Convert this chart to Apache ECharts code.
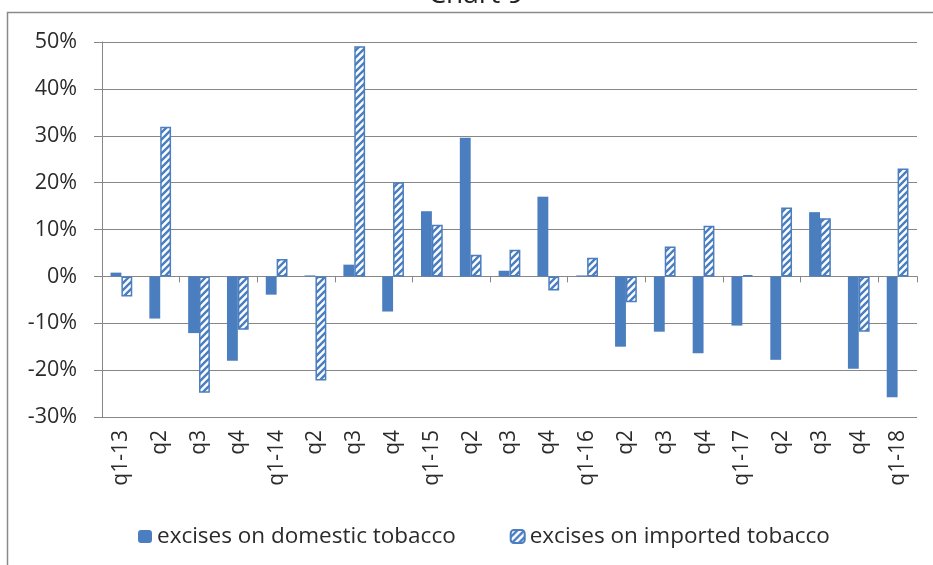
<!DOCTYPE html>
<html>
<head>
<meta charset="utf-8">
<script src="https://cdn.jsdelivr.net/npm/echarts@6/dist/echarts.min.js"></script>
<style>
  html, body { margin: 0; padding: 0; background: #fff; }
  #chart { width: 933px; height: 565px; }
</style>
</head>
<body>
<div id="chart"></div>
<script>
// Quarterly growth of tobacco excise revenue, % year on year
const quarters = ['q1-13','q2','q3','q4','q1-14','q2','q3','q4','q1-15','q2','q3','q4',
                  'q1-16','q2','q3','q4','q1-17','q2','q3','q4','q1-18'];
const domestic = [0.8, -9.0, -12.1, -18.0, -3.9, 0.2, 2.5, -7.5, 13.9, 29.6, 1.2, 17.0,
                  0.2, -15.0, -11.8, -16.4, -10.5, -17.8, 13.7, -19.7, -25.8];
const imported = [-4.3, 31.9, -24.8, -11.4, 3.7, -22.2, 49.1, 20.1, 11.0, 4.6, 5.7, -3.0,
                  4.0, -5.5, 6.4, 10.8, 0.3, 14.7, 12.4, -11.8, 23.0];
const seriesNames = ['excises on domestic tobacco', 'excises on imported tobacco'];
const yTicks = { min: -30, max: 50, step: 10 };

const BLUE = '#4A7EBF';
const GRID = '#878787';
const TEXT = '#2B2B2B';
const FONT = '"Open Sans", "Noto Sans", sans-serif';

// diagonal hatch tile for the imported series
function hatchTile() {
  const s = 7;
  const c = document.createElement('canvas');
  c.width = s; c.height = s;
  const g = c.getContext('2d');
  g.fillStyle = '#fff';
  g.fillRect(0, 0, s, s);
  g.strokeStyle = BLUE;
  g.lineWidth = 2.4;
  g.beginPath();
  g.moveTo(-1, s + 1); g.lineTo(s + 1, -1);
  g.moveTo(-2, 2); g.lineTo(2, -2);
  g.moveTo(s - 2, s + 2); g.lineTo(s + 2, s - 2);
  g.stroke();
  return c;
}

const chart = echarts.init(document.getElementById('chart'), null, { renderer: 'canvas' });

chart.setOption({
  animation: false,
  backgroundColor: '#fff',
  textStyle: { fontFamily: FONT },
  graphic: [
    {
      type: 'rect',
      shape: { x: 7.5, y: 12.5, width: 960, height: 620 },
      style: { fill: 'none', stroke: '#8A8A8A', lineWidth: 1.5 },
      silent: true, z: -1
    },
    {
      type: 'text',
      x: 476, y: 9,
      style: {
        text: 'Chart 9', fontFamily: FONT, fontSize: 28, fill: '#222',
        align: 'center', verticalAlign: 'bottom'
      },
      silent: true
    }
  ],
  grid: { left: 102, right: 16, top: 42, bottom: 148, containLabel: false },
  legend: {
    left: 133, top: 520,
    itemWidth: 14, itemHeight: 13, itemGap: 54,
    textStyle: { fontFamily: FONT, fontSize: 22.5, color: TEXT },
    data: seriesNames
  },
  xAxis: [
    {
      type: 'category', data: quarters, position: 'bottom',
      axisLine: { onZero: true, lineStyle: { color: GRID, width: 1 } },
      axisTick: { show: true, length: 6, lineStyle: { color: GRID } },
      axisLabel: { show: false },
      splitLine: { show: false }
    },
    {
      type: 'category', data: quarters, position: 'bottom',
      axisLine: { show: false, onZero: false },
      axisTick: { show: false },
      axisLabel: {
        show: true, rotate: 90, margin: 13, interval: 0,
        fontFamily: FONT, fontSize: 21, color: TEXT
      },
      splitLine: { show: false }
    }
  ],
  yAxis: {
    type: 'value', min: yTicks.min, max: yTicks.max, interval: yTicks.step,
    axisLine: { show: true, lineStyle: { color: GRID, width: 1 } },
    axisTick: { show: true, length: 8, inside: false, lineStyle: { color: GRID } },
    axisLabel: {
      margin: 25, fontFamily: FONT, fontSize: 21.5, color: TEXT,
      formatter: v => v + '%'
    },
    splitLine: { show: true, lineStyle: { color: GRID, width: 1.2 } }
  },
  series: [
    {
      name: seriesNames[0], type: 'bar', xAxisIndex: 0,
      data: domestic,
      barGap: '0%', barWidth: '28%',
      itemStyle: { color: BLUE }
    },
    {
      name: seriesNames[1], type: 'bar', xAxisIndex: 0,
      data: imported,
      barGap: '0%', barWidth: '28%',
      itemStyle: {
        color: { image: hatchTile(), repeat: 'repeat' },
        borderColor: BLUE, borderWidth: 1.5
      }
    }
  ]
});
</script>
</body>
</html>
